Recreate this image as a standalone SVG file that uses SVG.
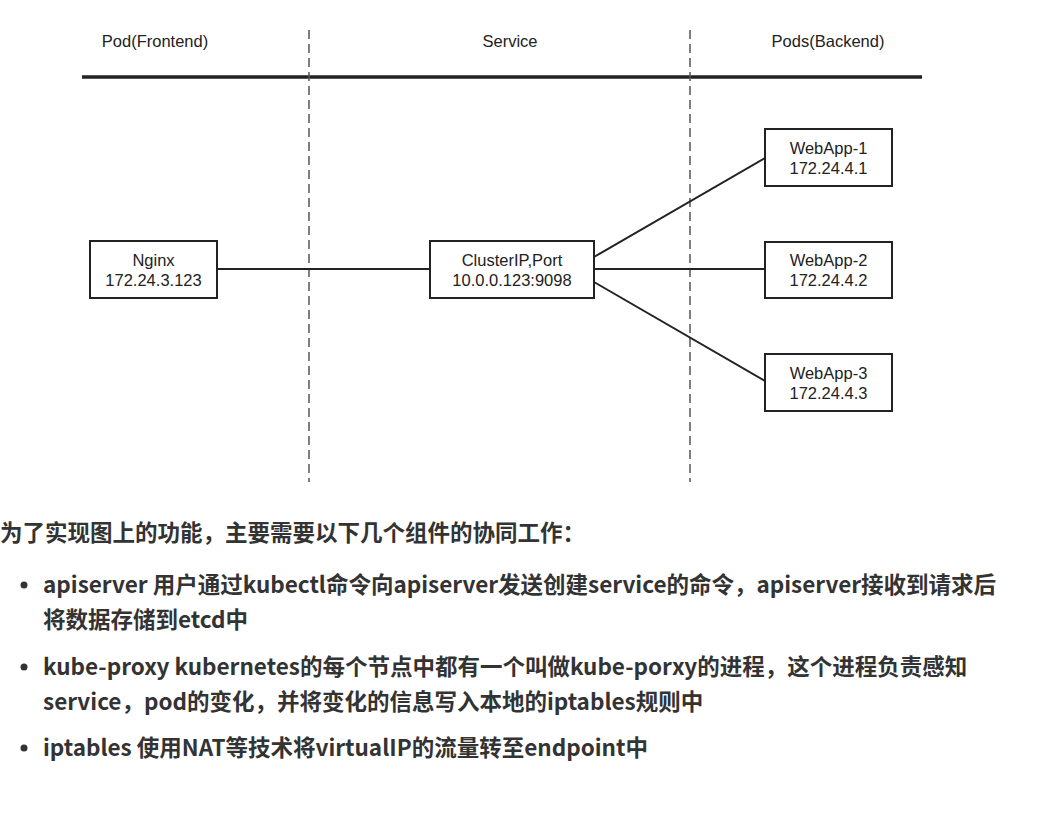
<svg xmlns="http://www.w3.org/2000/svg" width="1046" height="840" viewBox="0 0 1046 840">
<style>
.lbl{font-family:"Liberation Sans",Arial,sans-serif;font-size:16.5px;fill:#222;text-anchor:middle}
.box{fill:#fff;stroke:#222;stroke-width:2}
.conn{stroke:#222;stroke-width:2;fill:none}
.dash{stroke:#555;stroke-width:1.5;stroke-dasharray:9,5;fill:none}
.cn{font-family:"Noto Sans CJK SC","Noto Sans",sans-serif;font-weight:bold;font-size:22.5px;fill:#333}
</style>
<rect width="1046" height="840" fill="#fff"/>
<g id="headers">
<text class="lbl" x="155" y="47">Pod(Frontend)</text>
<text class="lbl" x="510" y="47">Service</text>
<text class="lbl" x="828" y="47">Pods(Backend)</text>
<line x1="82" y1="77" x2="922" y2="77" stroke="#222" stroke-width="3.5"/>
<line class="dash" x1="309" y1="30" x2="309" y2="482"/>
<line class="dash" x1="690" y1="30" x2="690" y2="482"/>
</g>
<g id="connectors">
<line class="conn" x1="217" y1="269" x2="430" y2="269"/>
<line class="conn" x1="594" y1="257" x2="765" y2="158"/>
<line class="conn" x1="594" y1="269" x2="765" y2="269"/>
<line class="conn" x1="594" y1="282" x2="765" y2="381"/>
</g>
<g id="nginx">
<rect class="box" x="90" y="241" width="127" height="57"/>
<text class="lbl" x="153.5" y="266">Nginx</text>
<text class="lbl" x="153.5" y="286">172.24.3.123</text>
</g>
<g id="clusterip">
<rect class="box" x="430" y="241" width="164" height="57"/>
<text class="lbl" x="512" y="266">ClusterIP,Port</text>
<text class="lbl" x="512" y="286">10.0.0.123:9098</text>
</g>
<g id="webapp1">
<rect class="box" x="765" y="129" width="127" height="57"/>
<text class="lbl" x="828.5" y="154">WebApp-1</text>
<text class="lbl" x="828.5" y="174">172.24.4.1</text>
</g>
<g id="webapp2">
<rect class="box" x="765" y="242" width="127" height="56"/>
<text class="lbl" x="828.5" y="266">WebApp-2</text>
<text class="lbl" x="828.5" y="286">172.24.4.2</text>
</g>
<g id="webapp3">
<rect class="box" x="765" y="354" width="127" height="57"/>
<text class="lbl" x="828.5" y="379">WebApp-3</text>
<text class="lbl" x="828.5" y="399">172.24.4.3</text>
</g>
<g id="text">
<text class="cn" x="0" y="541">为了实现图上的功能，主要需要以下几个组件的协同工作：</text>
<circle cx="24" cy="585" r="3.5" fill="#333"/>
<text class="cn" x="43" y="593">apiserver 用户通过kubectl命令向apiserver发送创建service的命令，apiserver接收到请求后</text>
<text class="cn" x="43" y="628">将数据存储到etcd中</text>
<circle cx="24" cy="667" r="3.5" fill="#333"/>
<text class="cn" x="43" y="675">kube-proxy kubernetes的每个节点中都有一个叫做kube-porxy的进程，这个进程负责感知</text>
<text class="cn" x="43" y="710">service，pod的变化，并将变化的信息写入本地的iptables规则中</text>
<circle cx="24" cy="748" r="3.5" fill="#333"/>
<text class="cn" x="43" y="756">iptables 使用NAT等技术将virtualIP的流量转至endpoint中</text>
</g>
</svg>
